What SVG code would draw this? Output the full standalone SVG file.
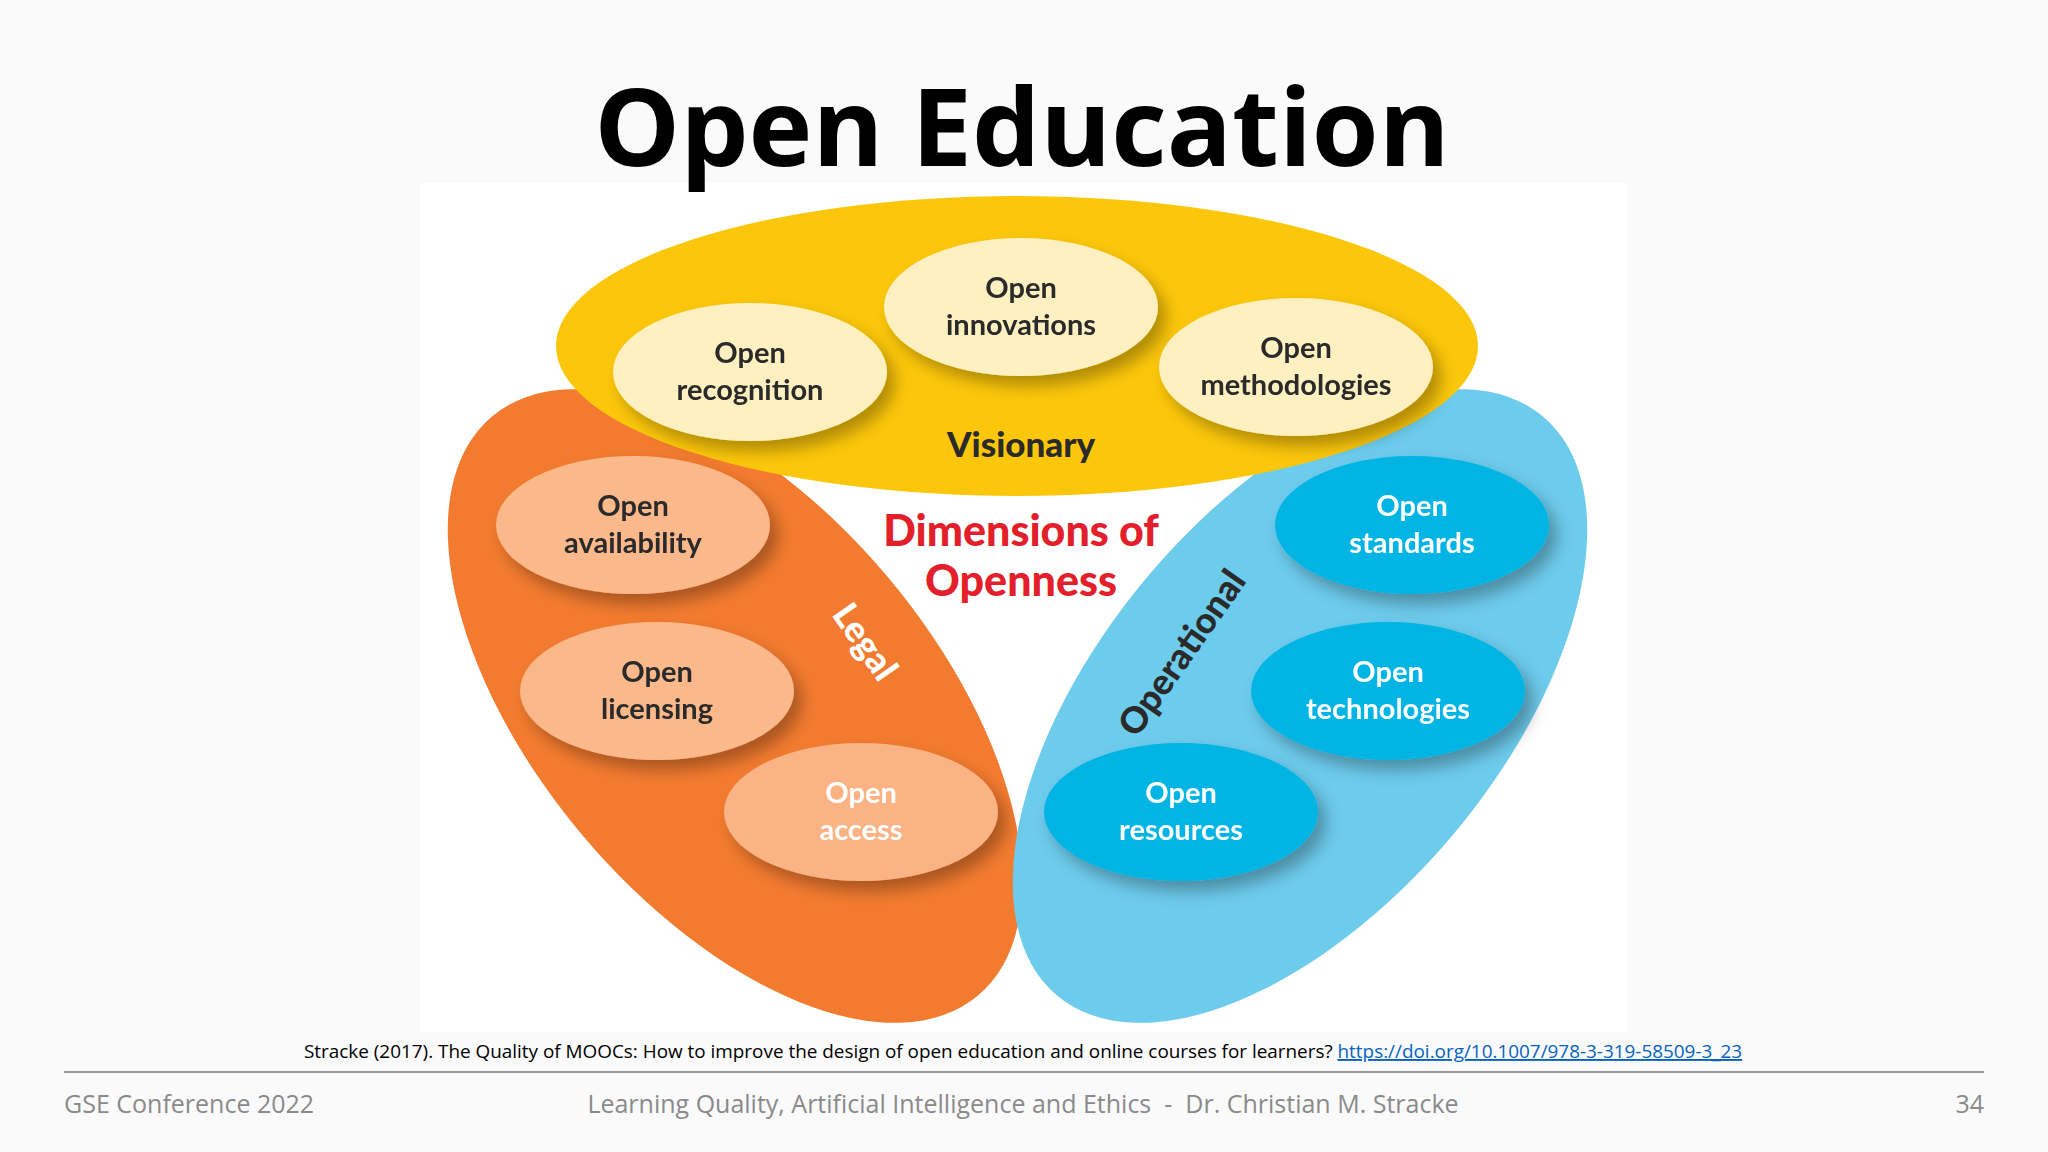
<svg xmlns="http://www.w3.org/2000/svg" width="2048" height="1152" viewBox="0 0 2048 1152">
<defs>
<filter id="sh" x="-30%" y="-30%" width="170%" height="180%"><feDropShadow dx="8" dy="10" stdDeviation="8" flood-color="#000" flood-opacity="0.3"/></filter>
<style>
.t{font-family:Lato,"Open Sans",sans-serif;font-weight:bold;font-size:29px;text-anchor:middle}
.d{fill:#2a2a2a}.w{fill:#fff}
.b{font-weight:900}
.f{font-family:"Open Sans",sans-serif;font-size:25px;fill:#8a8a8a}
</style>
</defs>
<rect width="2048" height="1152" fill="#fafafa"/>
<rect x="420" y="183" width="1207" height="849" fill="#fff"/>
<text x="1022" y="166" font-family="'Open Sans',sans-serif" font-weight="bold" font-size="108" text-anchor="middle" fill="#000">Open Education</text>
<g id="legal"><ellipse cx="735" cy="706" rx="378" ry="200" transform="rotate(50 735 706)" fill="#F37B2F"/>
<text class="t w b" x="855" y="649" transform="rotate(55 855 649)" style="font-size:36px">Legal</text></g>
<g id="operational"><ellipse cx="1300" cy="706" rx="378" ry="200" transform="rotate(-50 1300 706)" fill="#6DCBEC"/>
<text class="t d b" x="1192" y="660" transform="rotate(-55 1192 660)" style="font-size:36px">Operational</text></g>
<g id="visionary"><ellipse cx="1017" cy="346" rx="461" ry="150" fill="#FCC70A"/>
<text class="t d b" x="1021" y="457" style="font-size:35px">Visionary</text></g>
<g id="center"><text class="t b" x="1021" y="546" style="font-size:43px" fill="#E21F2B">Dimensions of</text>
<text class="t b" x="1021" y="596" style="font-size:43px" fill="#E21F2B">Openness</text></g>
<g id="n1" filter="url(#sh)"><ellipse cx="750" cy="372" rx="137" ry="69" fill="#FEF0C0"/><text class="t d" x="750" y="363">Open</text><text class="t d" x="750" y="400">recognition</text></g>
<g id="n2" filter="url(#sh)"><ellipse cx="1021" cy="307" rx="137" ry="69" fill="#FEF0C0"/><text class="t d" x="1021" y="298">Open</text><text class="t d" x="1021" y="335">innovations</text></g>
<g id="n3" filter="url(#sh)"><ellipse cx="1296" cy="367" rx="137" ry="69" fill="#FEF0C0"/><text class="t d" x="1296" y="358">Open</text><text class="t d" x="1296" y="395">methodologies</text></g>
<g id="n4" filter="url(#sh)"><ellipse cx="633" cy="525" rx="137" ry="69" fill="#FBB88A"/><text class="t d" x="633" y="516">Open</text><text class="t d" x="633" y="553">availability</text></g>
<g id="n5" filter="url(#sh)"><ellipse cx="657" cy="691" rx="137" ry="69" fill="#FBB88A"/><text class="t d" x="657" y="682">Open</text><text class="t d" x="657" y="719">licensing</text></g>
<g id="n6" filter="url(#sh)"><ellipse cx="861" cy="812" rx="137" ry="69" fill="#FAB385"/><text class="t w" x="861" y="803">Open</text><text class="t w" x="861" y="840">access</text></g>
<g id="n7" filter="url(#sh)"><ellipse cx="1412" cy="525" rx="137" ry="69" fill="#00B4E4"/><text class="t w" x="1412" y="516">Open</text><text class="t w" x="1412" y="553">standards</text></g>
<g id="n8" filter="url(#sh)"><ellipse cx="1388" cy="691" rx="137" ry="69" fill="#00B4E4"/><text class="t w" x="1388" y="682">Open</text><text class="t w" x="1388" y="719">technologies</text></g>
<g id="n9" filter="url(#sh)"><ellipse cx="1181" cy="812" rx="137" ry="69" fill="#00B4E4"/><text class="t w" x="1181" y="803">Open</text><text class="t w" x="1181" y="840">resources</text></g>
<g id="connectors"/>
<text x="304" y="1058" font-family="'Open Sans',sans-serif" font-size="18.9" fill="#000">Stracke (2017). The Quality of MOOCs: How to improve the design of open education and online courses for learners? <tspan fill="#0563C1" text-decoration="underline">https://doi.org/10.1007/978-3-319-58509-3_23</tspan></text>
<line x1="64" y1="1072" x2="1984" y2="1072" stroke="#999" stroke-width="2"/>
<text class="f" x="64" y="1113">GSE Conference 2022</text>
<text class="f" x="1023" y="1113" text-anchor="middle">Learning Quality, Artificial Intelligence and Ethics &#160;-&#160; Dr. Christian M. Stracke</text>
<text class="f" x="1984" y="1113" text-anchor="end">34</text>
</svg>
